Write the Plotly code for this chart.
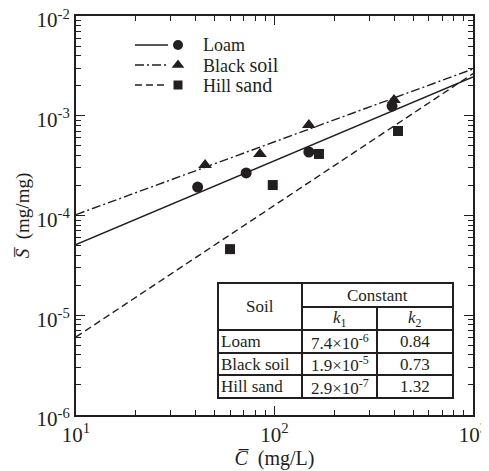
import plotly.graph_objects as go

# ---- data ----
loam_c = [41, 72, 149, 391]
loam_s = [1.93e-4, 2.67e-4, 4.33e-4, 1.25e-3]
black_c = [44.7, 84.5, 149, 400]
black_s = [3.2e-4, 4.14e-4, 8.07e-4, 1.44e-3]
hill_c = [59.7, 98, 167.5, 419]
hill_s = [4.6e-5, 2.02e-4, 4.14e-4, 7.03e-4]

soils = ["Loam", "Black soil", "Hill sand"]
k1 = [7.4e-6, 1.9e-5, 2.9e-7]
k2 = [0.84, 0.73, 1.32]
k1_text = ["7.4×10<sup>-6</sup>", "1.9×10<sup>-5</sup>", "2.9×10<sup>-7</sup>"]
k2_text = ["0.84", "0.73", "1.32"]

fit_c = [10, 1000]

x_tickvals = [10, 100, 1000]
x_ticktext = ["10<sup>1</sup>", "10<sup>2</sup>", "10<sup>3</sup>"]
y_tickvals = [1e-6, 1e-5, 1e-4, 1e-3, 1e-2]
y_ticktext = ["10<sup>-6</sup>", "10<sup>-5</sup>", "10<sup>-4</sup>", "10<sup>-3</sup>", "10<sup>-2</sup>"]

INK = "#231f20"
FONT = "Liberation Serif"

fig = go.Figure()

dashes = ["solid", "9px,3px,2px,3px", "7px,4px"]
symbols = ["circle", "triangle-up", "square"]
msize = [11, 12, 10]
pts = [(loam_c, loam_s), (black_c, black_s), (hill_c, hill_s)]

for i in range(3):
    fit_s = [k1[i] * c ** k2[i] for c in fit_c]
    fig.add_trace(go.Scatter(x=fit_c, y=fit_s, mode="lines",
                             line=dict(color=INK, width=1.4, dash=dashes[i]),
                             showlegend=False, hoverinfo="skip"))
for i in range(3):
    fig.add_trace(go.Scatter(x=pts[i][0], y=pts[i][1], mode="markers",
                             marker=dict(symbol=symbols[i], size=msize[i], color=INK),
                             showlegend=False))

# ---- layout geometry (page has an 8px body margin) ----
W, H = 489, 471
OFF = 8
L, R, T, B = 76 - OFF, 16 + OFF, 16 - OFF, 56 + OFF
pw, ph = W - L - R, H - T - B
def px(x):
    return (x - OFF - L) / pw
def py(y):
    return (H - B - (y - OFF)) / ph

leg_y = [45, 65, 85]
leg_labels = ["Loam", "Black <span style=\"font-size:20px\">soil</span>",
              "Hill <span style=\"font-size:20px\">sand</span>"]
for i in range(3):
    fig.add_shape(type="line", xref="paper", yref="paper",
                  x0=px(135), x1=px(168), y0=py(leg_y[i]), y1=py(leg_y[i]),
                  line=dict(color=INK, width=1.4, dash=dashes[i]))
    fig.add_trace(go.Scatter(x=[px(178)], y=[py(leg_y[i])], mode="markers",
                             xaxis="x2", yaxis="y2",
                             marker=dict(symbol=symbols[i], size=msize[i] - 1, color=INK),
                             showlegend=False, hoverinfo="skip"))
    fig.add_annotation(xref="paper", yref="paper", x=px(201), y=py(leg_y[i]),
                       text=leg_labels[i], showarrow=False, xanchor="left", yanchor="middle",
                       font=dict(family=FONT, size=18, color=INK))

# ---- table ----
tx0, tx1, tc1, tc2 = px(218), px(453), px(302), px(377)
ty = [py(283), py(307), py(330), py(353), py(375), py(398)]
lw = 2
fig.add_shape(type="rect", xref="paper", yref="paper", x0=tx0, x1=tx1, y0=ty[5], y1=ty[0],
              line=dict(color=INK, width=lw), fillcolor="white", layer="above")
for yy in [ty[2], ty[3], ty[4]]:
    fig.add_shape(type="line", xref="paper", yref="paper", x0=tx0, x1=tx1, y0=yy, y1=yy,
                  line=dict(color=INK, width=lw))
fig.add_shape(type="line", xref="paper", yref="paper", x0=tc1, x1=tx1, y0=ty[1], y1=ty[1],
              line=dict(color=INK, width=lw))
fig.add_shape(type="line", xref="paper", yref="paper", x0=tc1, x1=tc1, y0=ty[5], y1=ty[0],
              line=dict(color=INK, width=lw))
fig.add_shape(type="line", xref="paper", yref="paper", x0=tc2, x1=tc2, y0=ty[5], y1=ty[1],
              line=dict(color=INK, width=lw))

tf = dict(family=FONT, size=17, color=INK)
def cell(x, y, text, anchor="center"):
    fig.add_annotation(xref="paper", yref="paper", x=x, y=y, text=text, showarrow=False,
                       xanchor=anchor, yanchor="middle", font=tf, borderpad=0)

cell((tx0 + tc1) / 2, (ty[0] + ty[2]) / 2, "Soil")
cell((tc1 + tx1) / 2, (ty[0] + ty[1]) / 2, "Constant")
cell((tc1 + tc2) / 2, (ty[1] + ty[2]) / 2, "<i>k</i><sub>1</sub>")
cell((tc2 + tx1) / 2, (ty[1] + ty[2]) / 2, "<i>k</i><sub>2</sub>")
for i in range(3):
    yc = (ty[2 + i] + ty[3 + i]) / 2
    cell(tx0 + 0.004, yc, soils[i], anchor="left")
    cell((tc1 + tc2) / 2, yc, k1_text[i])
    cell((tc2 + tx1) / 2, yc, k2_text[i])

# ---- axes ----
minor_x = [m * 10 ** e for e in [1, 2] for m in range(2, 10)]
minor_y = [m * 10.0 ** e for e in [-6, -5, -4, -3] for m in range(2, 10)]

axis_common = dict(showgrid=False, zeroline=False, showline=True, linecolor=INK, linewidth=2,
                   ticks="inside", ticklen=9, tickwidth=1.2, tickcolor=INK, mirror="allticks",
                   automargin=False, ticklabeloverflow="allow",
                   tickfont=dict(family=FONT, size=21, color=INK))

fig.update_layout(
    width=W, height=H,
    margin=dict(l=L, r=R, t=T, b=B, autoexpand=False),
    plot_bgcolor="white", paper_bgcolor="white",
    showlegend=False,
    xaxis=dict(type="log", range=[1, 3], tickvals=x_tickvals, ticktext=x_ticktext,
               title=dict(text="<i>C\u0305</i>  (mg/L)", font=dict(family=FONT, size=20, color=INK),
                          standoff=0),
               **axis_common),
    yaxis=dict(type="log", range=[-6, -2], tickvals=y_tickvals, ticktext=y_ticktext,
               ticklabelshift=4,
               title=dict(text="<i>S\u0305</i>  (mg/mg)", font=dict(family=FONT, size=19, color=INK),
                          standoff=2),
               **axis_common),
    xaxis2=dict(overlaying="x", range=[0, 1], visible=False),
    yaxis2=dict(overlaying="y", range=[0, 1], visible=False),
    # minor-tick axes
    xaxis3=dict(overlaying="x", type="log", range=[1, 3], tickvals=minor_x,
                ticktext=[""] * len(minor_x), ticks="inside", ticklen=5, tickwidth=1.2,
                tickcolor=INK, mirror="allticks", showline=False, showgrid=False,
                zeroline=False, automargin=False, side="bottom", anchor="y"),
    yaxis3=dict(overlaying="y", type="log", range=[-6, -2], tickvals=minor_y,
                ticktext=[""] * len(minor_y), ticks="inside", ticklen=5, tickwidth=1.2,
                tickcolor=INK, mirror="allticks", showline=False, showgrid=False,
                zeroline=False, automargin=False, side="left", anchor="x"),
)
# invisible trace to activate minor-tick axes
fig.add_trace(go.Scatter(x=[10], y=[1e-6], xaxis="x3", yaxis="y3", mode="markers",
                         marker=dict(opacity=0), showlegend=False, hoverinfo="skip"))

fig.write_html("out.html")
